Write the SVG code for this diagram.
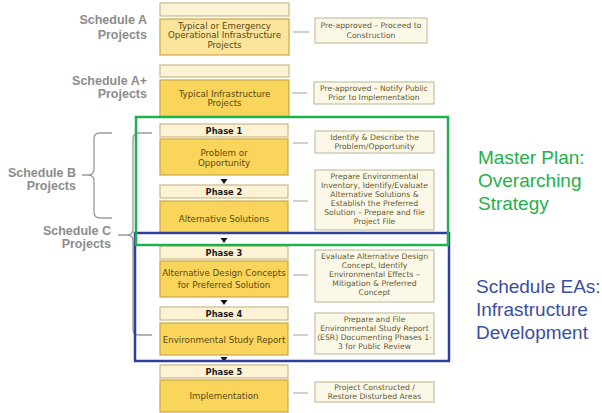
<svg xmlns="http://www.w3.org/2000/svg" width="602" height="413" viewBox="0 0 602 413">
<style>
.bg{fill:#ffffff}
.hdr{fill:#fdf2d4;stroke:#c9b98c;stroke-width:1.2}
.main{fill:#f9d55b;stroke:#c8a84a;stroke-width:1.2}
.mainl{fill:#fbe49c;stroke:#c8a84a;stroke-width:1.2}
.desc{fill:#fbf8e8;stroke:#c9c0a0;stroke-width:1.2}
.ph{font-family:"DejaVu Sans","Liberation Sans",sans-serif;font-weight:bold;font-size:8.3px;fill:#1a1a1a;text-anchor:middle}
.mt{font-family:"DejaVu Sans","Liberation Sans",sans-serif;font-size:8.7px;fill:#5a4810;text-anchor:middle}
.dt{font-family:"DejaVu Sans","Liberation Sans",sans-serif;font-size:7.7px;fill:#685a32;text-anchor:middle}
.lbl{font-family:"Liberation Sans",Arial,sans-serif;font-weight:bold;font-size:12.5px;fill:#8c8c8c;text-anchor:end}
.con{stroke:#a0a0a0;stroke-width:1;fill:none}
.brace{stroke:#9a9a9a;stroke-width:1.3;fill:none}
.tri{fill:#111111}
.green{fill:none;stroke:#1fb14b;stroke-width:2.5}
.blue{fill:none;stroke:#2e3f9e;stroke-width:2.5}
.gt{font-family:"Liberation Sans",Arial,sans-serif;font-size:19px;fill:#1fb14b}
.bt{font-family:"Liberation Sans",Arial,sans-serif;font-size:19px;fill:#3a4fa0}
</style>
<rect class="bg" x="0" y="0" width="602" height="413"/>

<g id="labels">
<text class="lbl" x="147" y="24">Schedule A</text>
<text class="lbl" x="147" y="39">Projects</text>
<text class="lbl" x="147" y="85">Schedule A+</text>
<text class="lbl" x="147" y="98">Projects</text>
<text class="lbl" x="76" y="177">Schedule B</text>
<text class="lbl" x="76" y="190">Projects</text>
<text class="lbl" x="111" y="235">Schedule C</text>
<text class="lbl" x="111" y="248">Projects</text>
</g>

<g id="connectors">
<path class="brace" d="M112,133 H100 Q94,133 94,139 V169 Q94,175 88,175 H82 M88,175 Q94,175 94,181 V212 Q94,218 100,218 H112"/>
<path class="brace" d="M152,133 H139 Q133,133 133,139 V229 Q133,235 127,235 H118 M127,235 Q133,235 133,241 V329 Q133,335 139,335 H152"/>
<line class="con" x1="293" y1="32" x2="309" y2="32"/>
<line class="con" x1="292" y1="93" x2="307" y2="93"/>
<line class="con" x1="293" y1="143" x2="308" y2="143"/>
<line class="con" x1="293" y1="201" x2="308" y2="201"/>
<line class="con" x1="293" y1="275" x2="308" y2="275"/>
<line class="con" x1="293" y1="335" x2="308" y2="335"/>
<line class="con" x1="293" y1="393" x2="308" y2="393"/>
<polygon class="tri" points="220.5,179 227.5,179 224,184"/>
<polygon class="tri" points="220.5,238 227.5,238 224,243"/>
<polygon class="tri" points="220.5,300 227.5,300 224,305"/>
<polygon class="tri" points="220.5,357 227.5,357 224,362"/>
</g>

<g id="scheduleA">
<rect class="hdr" x="160" y="3" width="129" height="13"/>
<rect class="mainl" x="160" y="19" width="129" height="36"/>
<text class="mt" x="224.5" y="28.5">Typical or Emergency</text>
<text class="mt" x="224.5" y="38">Operational Infrastructure</text>
<text class="mt" x="224.5" y="47.5">Projects</text>
</g>
<g id="descA">
<rect class="desc" x="315" y="18" width="112" height="25"/>
<text class="dt" x="371" y="28">Pre-approved – Proceed to</text>
<text class="dt" x="371" y="38">Construction</text>
</g>

<g id="scheduleAplus">
<rect class="hdr" x="160" y="65" width="129" height="12"/>
<rect class="main" x="160" y="80" width="129" height="37"/>
<text class="mt" x="224.5" y="96.5">Typical Infrastructure</text>
<text class="mt" x="224.5" y="106">Projects</text>
</g>
<g id="descAplus">
<rect class="desc" x="314" y="82" width="120" height="22"/>
<text class="dt" x="374" y="91">Pre-approved – Notify Public</text>
<text class="dt" x="374" y="100">Prior to Implementation</text>
</g>

<g id="phase1">
<rect class="hdr" x="160" y="124" width="128" height="13"/>
<text class="ph" x="224" y="134">Phase 1</text>
<rect class="main" x="160" y="139" width="128" height="36"/>
<text class="mt" x="224" y="156">Problem or</text>
<text class="mt" x="224" y="166">Opportunity</text>
</g>
<g id="desc1">
<rect class="desc" x="315" y="131" width="119" height="22"/>
<text class="dt" x="374.5" y="139.5">Identify &amp; Describe the</text>
<text class="dt" x="374.5" y="149">Problem/Opportunity</text>
</g>

<g id="phase2">
<rect class="hdr" x="160" y="185" width="128" height="13"/>
<text class="ph" x="224" y="195">Phase 2</text>
<rect class="main" x="160" y="201" width="128" height="32"/>
<text class="mt" x="224" y="222">Alternative Solutions</text>
</g>
<g id="desc2">
<rect class="desc" x="315" y="170" width="119" height="60"/>
<text class="dt" x="374.5" y="179">Prepare Environmental</text>
<text class="dt" x="374.5" y="188">Inventory, Identify/Evaluate</text>
<text class="dt" x="374.5" y="197">Alternative Solutions &amp;</text>
<text class="dt" x="374.5" y="206">Establish the Preferred</text>
<text class="dt" x="374.5" y="215">Solution – Prepare and file</text>
<text class="dt" x="374.5" y="224">Project File</text>
</g>

<g id="phase3">
<rect class="hdr" x="160" y="246" width="128" height="13"/>
<text class="ph" x="224" y="256">Phase 3</text>
<rect class="main" x="160" y="261" width="128" height="36"/>
<text class="mt" x="224" y="276">Alternative Design Concepts</text>
<text class="mt" x="224" y="288">for Preferred Solution</text>
</g>
<g id="desc3">
<rect class="desc" x="315" y="250" width="119" height="52"/>
<text class="dt" x="374.5" y="258.5">Evaluate Alternative Design</text>
<text class="dt" x="374.5" y="267.5">Concept, Identify</text>
<text class="dt" x="374.5" y="276.5">Environmental Effects –</text>
<text class="dt" x="374.5" y="285.5">Mitigation &amp; Preferred</text>
<text class="dt" x="374.5" y="294.5">Concept</text>
</g>

<g id="phase4">
<rect class="hdr" x="160" y="307" width="128" height="13"/>
<text class="ph" x="224" y="317">Phase 4</text>
<rect class="main" x="160" y="323" width="128" height="32"/>
<text class="mt" x="224" y="342.5">Environmental Study Report</text>
</g>
<g id="desc4">
<rect class="desc" x="315" y="313" width="119" height="41"/>
<text class="dt" x="374.5" y="322">Prepare and File</text>
<text class="dt" x="374.5" y="331">Environmental Study Report</text>
<text class="dt" x="374.5" y="340">(ESR) Documenting Phases 1-</text>
<text class="dt" x="374.5" y="349">3 for Public Review</text>
</g>

<g id="phase5">
<rect class="hdr" x="160" y="365" width="128" height="13"/>
<text class="ph" x="224" y="375">Phase 5</text>
<rect class="main" x="160" y="380" width="128" height="32"/>
<text class="mt" x="224" y="399">Implementation</text>
</g>
<g id="desc5">
<rect class="desc" x="315" y="382" width="119" height="20"/>
<text class="dt" x="374.5" y="390">Project Constructed /</text>
<text class="dt" x="374.5" y="399">Restore Disturbed Areas</text>
</g>

<g id="scheduleEAs">
<rect class="blue" x="135" y="233" width="314" height="128"/>
<text class="bt" x="476" y="293">Schedule EAs:</text>
<text class="bt" x="476" y="316">Infrastructure</text>
<text class="bt" x="476" y="339">Development</text>
</g>
<g id="masterPlan">
<rect class="green" x="136" y="117" width="312" height="128"/>
<text class="gt" x="478" y="164">Master Plan:</text>
<text class="gt" x="478" y="187">Overarching</text>
<text class="gt" x="478" y="210">Strategy</text>
</g>
</svg>
